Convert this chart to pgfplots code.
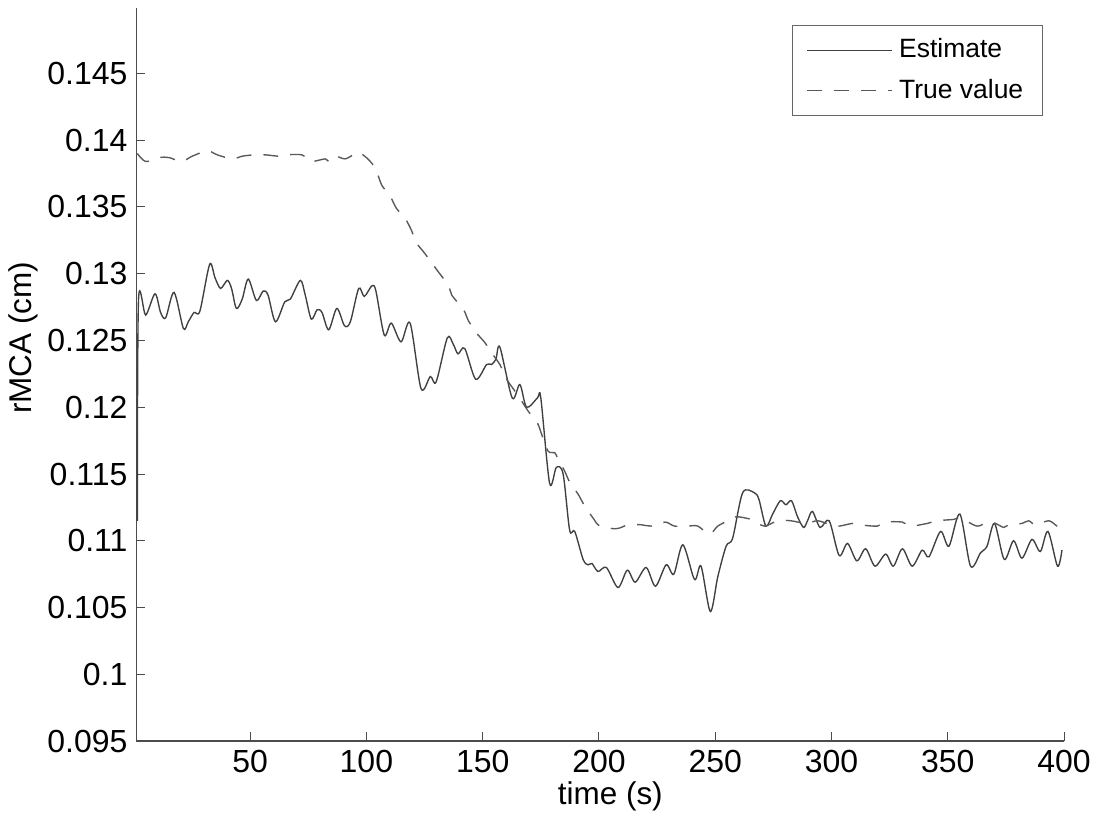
\documentclass[border=0pt]{standalone}
\usepackage{fontspec}
\setmainfont{Liberation Sans}
\usepackage{pgfplots}
\pgfplotsset{compat=1.18}

\begin{document}
\begin{tikzpicture}
\begin{axis}[
	scale only axis, width=371.6pt, height=293.6pt,
	xmin=1, xmax=400, ymin=0.095, ymax=0.1499,
	axis x line*=bottom, axis y line*=left,
	axis line style={-, black!70, line width=0.5pt},
	tick style={black!70, line width=0.4pt},
	tick align=inside, major tick length=3.6pt,
	xtick={50,100,...,400},
	ytick={0.095,0.1,0.105,0.11,0.115,0.12,0.125,0.13,0.135,0.14,0.145},
	yticklabels={0.095,0.1,0.105,0.11,0.115,0.12,0.125,0.13,0.135,0.14,0.145},
	scaled y ticks=false,
	/pgf/number format/assume math mode=true,
	ticklabel style={font=\fontsize{12.8}{14}\selectfont},
	label style={font=\fontsize{12.6}{14}\selectfont},
	xlabel={time (s)}, ylabel={rMCA (cm)},
	xlabel style={at={(axis description cs:0.511,-0.075)}, anchor=center},
	ylabel style={at={(axis description cs:-0.122,0.55)}, anchor=center},
	legend image code/.code={\draw[#1] (0pt,0pt) -- (34pt,0pt);},
	legend cell align=left,
	legend style={at={(0.977,0.977)}, anchor=north east, draw=black!60,
		font=\fontsize{10.6}{12.5}\selectfont, inner xsep=5.6pt, inner ysep=3.4pt,
		row sep=3pt, column sep=0.5pt},
]
% estimate
\addplot[black!75, line width=0.55pt, smooth, tension=0.5] table {
1.5 0.1115
2.0 0.1280
5.1 0.1269
9.1 0.1285
11.5 0.1271
13.7 0.1267
17.3 0.1286
21.3 0.1259
23.4 0.1264
25.9 0.1271
28.4 0.1272
32.6 0.1307
34.9 0.1297
37.3 0.1289
40.2 0.1295
42.0 0.1289
44.1 0.1274
46.6 0.1281
49.2 0.1296
52.7 0.1280
55.6 0.1287
57.7 0.1284
60.9 0.1264
64.9 0.1279
67.3 0.1281
71.6 0.1295
73.7 0.1284
76.3 0.1266
78.8 0.1273
80.9 0.1271
83.8 0.1258
87.3 0.1274
90.6 0.1261
93.1 0.1264
96.7 0.1289
99.1 0.1283
102.4 0.1291
104.1 0.1287
107.7 0.1254
110.7 0.1263
114.9 0.1249
118.8 0.1263
123.5 0.1214
127.5 0.1223
130.0 0.1219
134.8 0.1252
137.4 0.1247
139.4 0.1240
142.3 0.1244
147.0 0.1221
151.7 0.1232
153.8 0.1232
155.7 0.1236
157.4 0.1245
162.7 0.1207
166.0 0.1217
168.9 0.1200
173.6 0.1207
175.0 0.1207
178.8 0.1143
181.7 0.1155
184.6 0.1150
187.4 0.1108
189.6 0.1107
193.2 0.1086
195.3 0.1082
197.0 0.1083
199.6 0.1077
203.2 0.1080
208.2 0.1065
212.2 0.1078
215.6 0.1069
220.3 0.1080
224.3 0.1066
228.9 0.1082
232.2 0.1075
236.1 0.1097
241.1 0.1071
243.9 0.1081
247.9 0.1047
251.1 0.1073
254.7 0.1096
257.5 0.1102
261.8 0.1136
266.8 0.1136
268.8 0.1131
271.8 0.1111
274.7 0.1120
278.0 0.1130
280.4 0.1127
282.8 0.1130
285.4 0.1118
288.0 0.1110
289.7 0.1115
291.8 0.1122
295.1 0.1110
299.0 0.1115
303.3 0.1089
306.9 0.1098
310.9 0.1085
314.7 0.1094
318.7 0.1081
323.3 0.1090
326.6 0.1081
330.5 0.1094
334.7 0.1081
339.0 0.1093
341.9 0.1088
346.9 0.1107
350.5 0.1096
355.2 0.1120
359.8 0.1081
364.1 0.1091
366.9 0.1096
370.1 0.1113
374.3 0.1086
378.3 0.1100
381.9 0.1087
386.2 0.1101
389.8 0.1092
393.1 0.1107
397.2 0.1081
399.1 0.1093
};
\addlegendentry{Estimate}
% true value
\addplot[black!65, line width=0.55pt, dash pattern=on 6pt off 4.8pt, smooth, tension=0.5] table {
1.5 0.1390
5.1 0.1384
10.9 0.1387
15.1 0.1387
20.5 0.1384
25.1 0.1388
31.6 0.1392
35.9 0.1389
42.3 0.1386
46.6 0.1388
51.6 0.1389
56.6 0.1389
62.3 0.1388
65.2 0.1389
72.3 0.1389
75.9 0.1384
82.3 0.1386
83.8 0.1384
86.6 0.1388
90.9 0.1386
95.2 0.1390
96.8 0.1391
100.6 0.1386
103.8 0.1379
106.7 0.1366
109.7 0.1360
112.9 0.1349
116.5 0.1342
119.5 0.1332
121.1 0.1324
125.2 0.1315
131.1 0.1301
135.4 0.1291
136.7 0.1284
141.8 0.1273
143.8 0.1265
147.6 0.1255
150.7 0.1249
154.6 0.1239
157.4 0.1232
160.3 0.1221
163.1 0.1214
167.0 0.1204
169.6 0.1197
173.6 0.1188
175.5 0.1179
178.2 0.1167
181.0 0.1166
182.2 0.1162
185.3 0.1152
187.4 0.1144
191.0 0.1135
193.9 0.1126
197.9 0.1116
200.3 0.1111
206.7 0.1109
209.6 0.1110
212.5 0.1112
218.2 0.1112
222.5 0.1111
228.5 0.1114
232.5 0.1111
238.2 0.1111
242.5 0.1111
247.5 0.1105
251.1 0.1111
255.4 0.1115
258.9 0.1118
265.4 0.1116
271.1 0.1111
276.8 0.1115
282.5 0.1115
289.0 0.1113
294.0 0.1115
299.7 0.1112
303.3 0.1111
309.0 0.1113
311.8 0.1112
319.7 0.1111
323.3 0.1114
330.5 0.1114
334.0 0.1111
341.2 0.1113
345.5 0.1115
352.6 0.1116
355.5 0.1117
362.6 0.1111
366.9 0.1114
370.5 0.1113
374.1 0.1110
376.2 0.1112
381.9 0.1113
384.8 0.1115
387.7 0.1112
393.4 0.1115
397.0 0.1111
399.1 0.1110
};
\addlegendentry{True value}
\end{axis}
\path (-54pt,-31.6pt) rectangle (386pt,296.8pt);
\end{tikzpicture}
\end{document}
